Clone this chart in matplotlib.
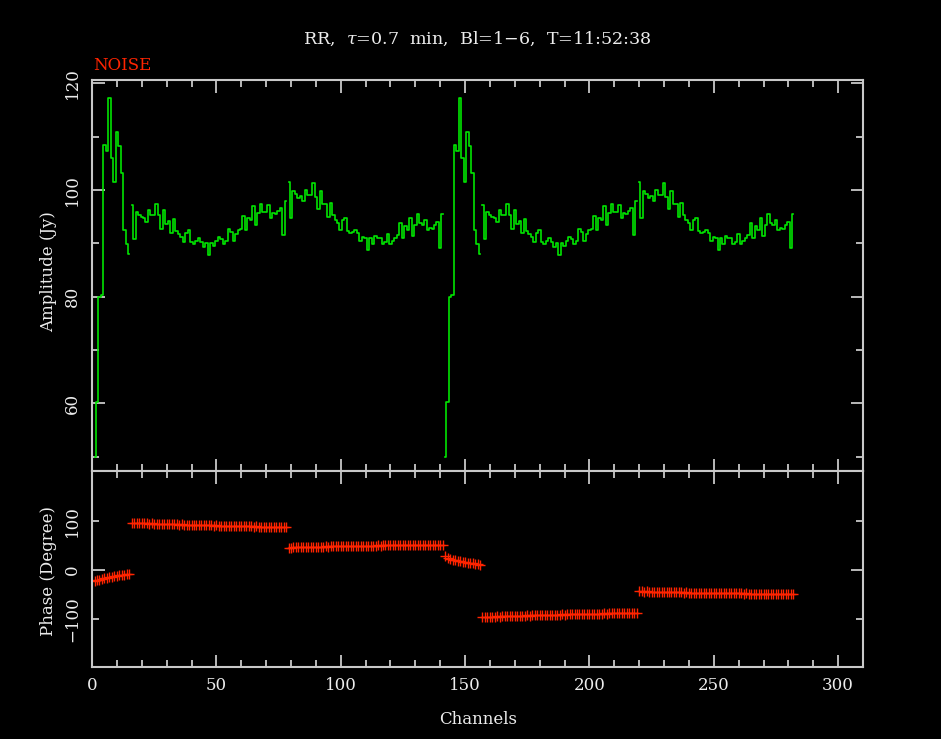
import numpy as np
import matplotlib
matplotlib.use('Agg')
import matplotlib.pyplot as plt
from matplotlib.ticker import MultipleLocator

# amplitude per channel of one IF (channels 1-141); the second IF shows the same spectrum
amp_if = [50.0, 60.3, 80.0, 80.2, 108.4, 107.2, 117.3, 106.0, 101.4, 110.8,
          108.2, 103.2, 92.4, 89.8, 87.9, 97.2, 90.7, 95.9, 95.2, 94.9,
          94.7, 94.0, 96.2, 95.2, 95.2, 97.4, 95.2, 92.7, 96.2, 93.6,
          94.2, 91.9, 94.6, 92.3, 91.8, 91.2, 90.2, 91.9, 92.5, 90.2,
          89.9, 90.5, 91.0, 90.2, 89.3, 90.1, 87.7, 90.1, 89.5, 90.5,
          91.2, 90.8, 89.9, 90.5, 92.7, 92.1, 90.5, 91.7, 92.4, 92.7,
          95.1, 92.5, 94.8, 94.4, 96.9, 93.4, 95.7, 97.4, 95.8, 95.8,
          97.1, 94.8, 95.6, 95.5, 96.0, 96.6, 91.5, 98.0, 101.5, 94.8,
          99.8, 99.3, 98.5, 98.9, 97.9, 100.0, 99.1, 99.1, 101.3, 98.7,
          96.4, 99.8, 97.4, 97.4, 95.0, 97.5, 95.2, 94.4, 93.7, 92.5,
          94.3, 94.8, 92.3, 91.9, 92.1, 92.5, 91.9, 90.5, 91.2, 91.0,
          88.8, 90.9, 89.9, 91.3, 90.9, 90.9, 89.9, 90.2, 91.8, 89.9,
          90.5, 91.0, 91.5, 93.8, 90.9, 93.2, 92.4, 94.8, 91.3, 93.4,
          95.5, 93.7, 93.5, 94.4, 92.4, 92.9, 92.7, 93.4, 94.0, 89.1,
          95.4]

# phase per sub-band (degrees)
phase_a = [-22, -21, -20, -18, -17, -16, -15, -14, -13, -12, -11, -10, -10, -9, -8]
phase_b = [96, 96, 95, 96, 95, 95, 95, 94, 95, 94,
           94, 94, 94, 93, 94, 93, 93, 93, 93, 92,
           93, 92, 92, 92, 92, 92, 91, 92, 91, 91,
           91, 91, 91, 90, 91, 90, 90, 90, 90, 90,
           90, 89, 90, 89, 89, 89, 89, 89, 89, 88,
           89, 88, 88, 88, 88, 88, 88, 88, 87, 88,
           87, 87, 88]
phase_c = [45, 45, 46, 46, 46, 46, 46, 47, 46, 47,
           47, 47, 47, 47, 47, 48, 47, 48, 48, 48,
           48, 48, 48, 48, 48, 49, 48, 49, 49, 49,
           49, 49, 49, 49, 49, 49, 50, 49, 50, 50,
           50, 50, 50, 50, 50, 50, 50, 50, 51, 50,
           51, 51, 51, 51, 51, 51, 51, 51, 51, 51,
           51, 51, 51]
phase_d = [28, 24, 22, 21, 20, 19, 18, 17, 16, 15, 15, 14, 13, 12, 11]
phase_e = [-96, -95, -96, -95, -95, -95, -94, -95, -94, -94,
           -94, -94, -93, -94, -93, -93, -93, -93, -92, -93,
           -92, -92, -92, -92, -92, -91, -92, -91, -91, -91,
           -91, -91, -90, -91, -90, -90, -90, -90, -90, -90,
           -89, -90, -89, -89, -89, -89, -89, -89, -89, -88,
           -89, -88, -88, -88, -88, -88, -88, -88, -88, -88,
           -88, -88, -88]
phase_f = [-43, -43, -44, -43, -44, -44, -44, -44, -44, -45,
           -44, -45, -45, -45, -45, -45, -45, -45, -46, -45,
           -46, -46, -46, -46, -46, -46, -46, -46, -46, -47,
           -46, -47, -47, -47, -47, -47, -47, -47, -47, -47,
           -47, -47, -48, -47, -48, -48, -48, -48, -48, -48,
           -48, -48, -48, -48, -48, -48, -48, -48, -48, -48,
           -48, -48, -49]

subband_sizes = [15, 63, 63]
n_if = 2

plt.rcParams['font.family'] = 'DejaVu Serif'
plt.rcParams['mathtext.fontset'] = 'dejavuserif'

fg = '#ececec'
frame_col = '#c8c8c8'
green = '#00e400'
red = '#ff2400'

fig = plt.figure(figsize=(9.41, 7.39), dpi=100, facecolor='black')
ax_amp = fig.add_axes([0.0978, 0.3627, 0.8193, 0.5290], facecolor='black')
ax_ph = fig.add_axes([0.0978, 0.0974, 0.8193, 0.2653], facecolor='black')

# amplitude: one stepped line per sub-band
ch0 = 1
for k in range(n_if):
    i0 = 0
    for n in subband_sizes:
        ch = np.arange(ch0, ch0 + n)
        ax_amp.plot(ch, amp_if[i0:i0 + n], drawstyle='steps-mid', color=green, lw=1.2)
        i0 += n
        ch0 += n

# phase
ch0 = 1
for ph in [phase_a, phase_b, phase_c, phase_d, phase_e, phase_f]:
    ch = np.arange(ch0, ch0 + len(ph))
    ax_ph.plot(ch, ph, '+', color=red, ms=7, mew=1.0)
    ch0 += len(ph)

for ax in (ax_amp, ax_ph):
    ax.set_xlim(0, 310)
    ax.xaxis.set_major_locator(MultipleLocator(50))
    ax.xaxis.set_minor_locator(MultipleLocator(10))
    for s in ax.spines.values():
        s.set_color(frame_col)
        s.set_linewidth(1.5)
    ax.tick_params(which='both', direction='in', top=True, right=True,
                   color=frame_col, labelcolor=fg, labelsize=12)
    ax.tick_params(which='major', length=9, width=1.3)
    ax.tick_params(which='minor', length=5, width=1.3)

ax_amp.set_ylim(47.3, 120.6)
ax_amp.yaxis.set_major_locator(MultipleLocator(20))
ax_amp.yaxis.set_minor_locator(MultipleLocator(10))
ax_amp.tick_params(labelbottom=False)
ax_amp.tick_params(axis='y', labelrotation=90, pad=8)
for t in ax_amp.get_yticklabels():
    t.set_va('center')

ax_ph.set_ylim(-198, 202)
ax_ph.set_yticks([0])
ax_ph.set_yticklabels(['0'])
ax_ph.set_yticks([-100, 100], minor=True)
ax_ph.set_yticklabels(['\u2212100', '100'], minor=True)
ax_ph.tick_params(axis='y', which='both', labelrotation=90, pad=8)
for t in ax_ph.get_yticklabels(which='both'):
    t.set_va('center')
ax_ph.tick_params(axis='x', pad=7)

fig.text(0.5076, 0.948, 'RR,  $\\tau$=0.7  min,  Bl=1\u22126,  T=11:52:38',
         color=fg, fontsize=12.6, ha='center', va='center')
fig.text(0.0988, 0.912, 'NOISE', color=red, fontsize=12, ha='left', va='center')
fig.text(0.0513, 0.632, 'Amplitude (Jy)', color=fg, fontsize=12, rotation=90,
         ha='center', va='center')
fig.text(0.0513, 0.228, 'Phase (Degree)', color=fg, fontsize=12, rotation=90,
         ha='center', va='center')
fig.text(0.508, 0.026, 'Channels', color=fg, fontsize=12, ha='center', va='center')

fig.savefig('out.png', dpi=100, facecolor='black')
